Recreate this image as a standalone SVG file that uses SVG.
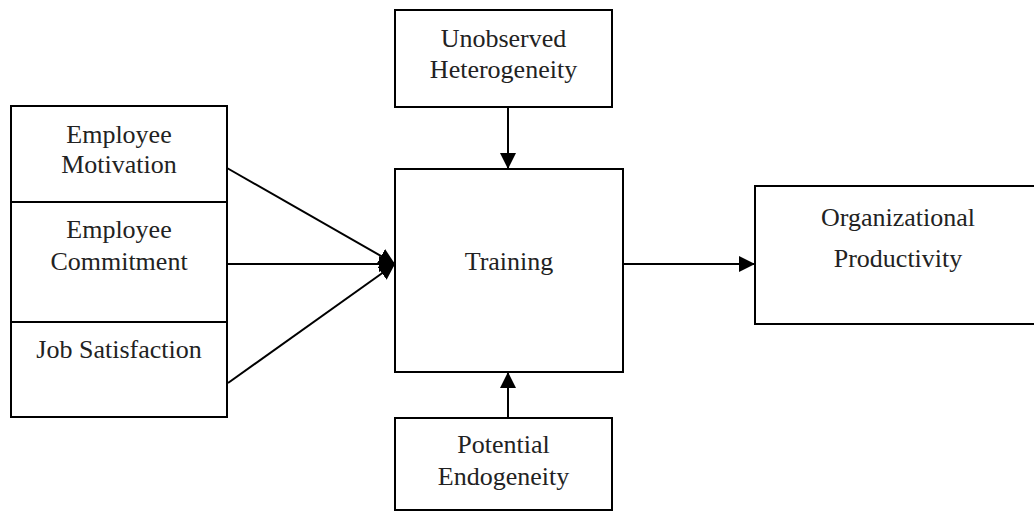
<svg xmlns="http://www.w3.org/2000/svg" width="1034" height="514" viewBox="0 0 1034 514">
<style>
.box{fill:#fff;stroke:#000;stroke-width:2}
.ln{stroke:#000;stroke-width:2;fill:none}
text{font-family:"Liberation Serif","Times New Roman",serif;font-size:26px;fill:#222;text-anchor:middle}
</style>
<defs>
<marker id="ah" markerWidth="16" markerHeight="16" viewBox="0 0 16 16" refX="16" refY="8" orient="auto" markerUnits="userSpaceOnUse">
<path d="M0,0 L16,8 L0,16 Z" fill="#000"/>
</marker>
</defs>
<rect width="1034" height="514" fill="#fff"/>
<g id="inputs">
<rect class="box" x="11" y="106" width="216" height="311"/>
<line class="ln" x1="11" y1="202" x2="227" y2="202"/>
<line class="ln" x1="11" y1="322" x2="227" y2="322"/>
</g>
<g id="motivation">
<text x="119" y="143">Employee</text>
<text x="119" y="173">Motivation</text>
</g>
<g id="commitment">
<text x="119" y="238">Employee</text>
<text x="119" y="270">Commitment</text>
</g>
<g id="satisfaction">
<text x="119" y="358">Job Satisfaction</text>
</g>
<g id="unobserved">
<rect class="box" x="395" y="10" width="217" height="97"/>
<text x="503.5" y="47">Unobserved</text>
<text x="503.5" y="78">Heterogeneity</text>
</g>
<g id="training">
<rect class="box" x="395" y="169" width="228" height="203"/>
<text x="509" y="270">Training</text>
</g>
<g id="endogeneity">
<rect class="box" x="395" y="418" width="217" height="92"/>
<text x="503.5" y="453">Potential</text>
<text x="503.5" y="485">Endogeneity</text>
</g>
<g id="productivity">
<rect class="box" x="755" y="186" width="290" height="138"/>
<text x="898" y="226">Organizational</text>
<text x="898" y="267">Productivity</text>
</g>
<g id="connectors">
<line class="ln" x1="227" y1="168" x2="395" y2="264" marker-end="url(#ah)"/>
<line class="ln" x1="227" y1="264" x2="395" y2="264" marker-end="url(#ah)"/>
<line class="ln" x1="228" y1="383" x2="395" y2="264" marker-end="url(#ah)"/>
<line class="ln" x1="508" y1="107" x2="508" y2="169" marker-end="url(#ah)"/>
<line class="ln" x1="508" y1="418" x2="508" y2="372" marker-end="url(#ah)"/>
<line class="ln" x1="623" y1="264" x2="755" y2="264" marker-end="url(#ah)"/>
</g>
</svg>
